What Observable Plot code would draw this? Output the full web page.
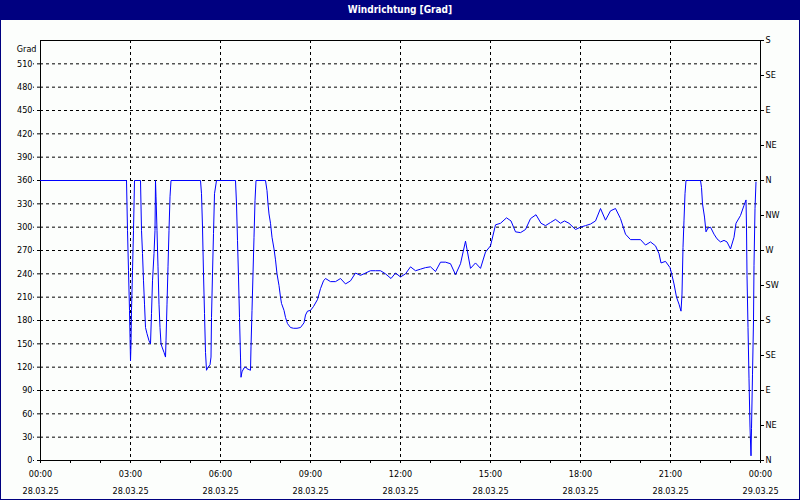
<!DOCTYPE html>
<html><head><meta charset="utf-8">
<script src="https://cdn.jsdelivr.net/npm/d3@7"></script>
<script src="https://cdn.jsdelivr.net/npm/@observablehq/plot@0.6"></script>
<style>
html,body{margin:0;padding:0;background:#fff;}
#win{width:800px;height:500px;box-sizing:border-box;border:1px solid #000080;border-top:none;background:#fcfefc;position:relative;overflow:hidden;}
#title{height:20px;background:#000080;color:#fff;font:bold 10px "DejaVu Sans Condensed","DejaVu Sans",sans-serif;text-align:center;line-height:20px;margin:0 -1px;}
#chart svg{display:block;}
</style></head>
<body>
<div id="win"><div id="title">Windrichtung [Grad]</div><div id="chart"></div></div>
<script>
const times = ["00:00","02:52","02:54","02:56","02:58","03:00","03:01","03:02","03:04","03:06","03:08","03:20","03:22","03:24","03:26","03:28","03:30","03:33","03:37","03:40","03:42","03:44","03:47","03:49","03:50","03:51","03:53","03:55","03:57","03:59","04:01","04:03","04:07","04:10","04:11","04:13","04:15","04:17","04:19","04:21","05:20","05:22","05:24","05:26","05:28","05:30","05:32","05:35","05:39","05:41","05:42","05:44","05:46","05:48","05:52","06:30","06:32","06:34","06:36","06:38","06:40","06:41","06:43","06:47","06:50","06:53","07:00","07:01","07:03","07:05","07:07","07:09","07:11","07:30","07:33","07:35","07:37","07:40","07:43","07:47","07:50","07:53","07:57","08:00","08:02","08:07","08:10","08:14","08:20","08:26","08:33","08:40","08:47","08:50","08:54","09:00","09:06","09:14","09:20","09:26","09:30","09:40","09:50","10:00","10:10","10:20","10:30","10:40","10:50","11:00","11:10","11:20","11:30","11:41","11:50","12:00","12:10","12:20","12:30","12:40","12:50","13:00","13:10","13:20","13:30","13:40","13:50","14:00","14:10","14:20","14:30","14:40","14:50","15:00","15:10","15:20","15:32","15:41","15:50","16:00","16:10","16:20","16:31","16:41","16:50","17:00","17:10","17:20","17:28","17:37","17:50","18:00","18:10","18:20","18:30","18:40","18:50","19:00","19:10","19:20","19:30","19:40","20:00","20:10","20:20","20:30","20:37","20:41","20:50","20:59","21:03","21:07","21:12","21:17","21:21","21:23","21:25","21:27","21:29","21:31","22:00","22:02","22:04","22:08","22:11","22:15","22:20","22:27","22:33","22:40","22:47","22:53","23:00","23:07","23:11","23:20","23:27","23:31","23:32","23:33","23:35","23:37","23:39","23:41","23:42","23:44","23:46","23:47","23:49","23:51"];
const degrees = [360,360,296,244,193,128,150,193,244,296,360,360,296,266,231,201,171,163,154,150,189,231,266,296,360,339,296,249,201,171,150,146,139,133,154,201,249,296,339,360,360,343,300,240,189,139,116,120,123,133,184,240,292,343,360,360,330,283,236,184,133,107,114,119,120,118,116,146,193,240,287,334,360,360,347,330,317,305,287,272,258,240,225,210,202,193,184,176,171,170,170,171,177,187,192,193,198,207,221,231,234,230,230,234,227,231,241,238,241,244,244,244,240,234,241,236,240,249,244,246,248,249,243,255,255,253,239,253,282,247,254,247,268,276,303,305,312,308,294,293,297,311,316,305,302,306,310,305,308,305,297,300,302,304,308,324,309,321,324,311,291,284,284,277,281,276,266,254,256,248,238,227,210,201,192,214,274,309,343,360,360,351,330,313,294,299,300,291,285,281,283,281,272,287,305,315,328,335,300,238,171,105,43,6,41,111,180,251,324,358];
const yTicks = [0,30,60,90,120,150,180,210,240,270,300,330,360,390,420,450,480,510];
const compassTicks = [0,45,90,135,180,225,270,315,360,405,450,495,540];
const compassLabels = ["N","NE","E","SE","S","SW","W","NW","N","NE","E","SE","S"];
const dayStart = "2025-03-28", dayEnd = "2025-03-29";

const data = times.map((t, i) => ({t: new Date(`${dayStart}T${t}:00Z`), v: degrees[i]}));
const start = new Date(`${dayStart}T00:00:00Z`), end = new Date(`${dayEnd}T00:00:00Z`);
const xMajor = d3.utcHour.every(3).range(start, new Date(+end + 1));
const xMinor = d3.utcHour.every(1).range(start, new Date(+end + 1));
const fmtT = d3.utcFormat("%H:%M"), fmtD = d3.utcFormat("%d.%m.%y");

const chart = Plot.plot({
  width: 798, height: 479,
  marginLeft: 39, marginRight: 39, marginTop: 20, marginBottom: 39,
  style: {background: "transparent", fontFamily: "'DejaVu Sans Condensed','DejaVu Sans',sans-serif", fontSize: "9px", color: "#000"},
  x: {type: "utc", domain: [start, end]},
  y: {domain: [0, 540]},
  marks: [
    Plot.gridY(yTicks.slice(1), {stroke: "#000", strokeOpacity: 1, strokeDasharray: "3,3"}),
    Plot.gridX(xMajor.slice(1, -1), {stroke: "#000", strokeOpacity: 1, strokeDasharray: "3,3"}),
    Plot.axisY(yTicks, {anchor: "left", tickSize: 7, tickPadding: 1, strokeDasharray: "3,3", label: null}),
    Plot.axisY(compassTicks, {anchor: "right", tickSize: 3, tickPadding: 2, tickFormat: d => compassLabels[d / 45], label: null}),
    Plot.axisX(xMajor, {tickSize: 3, tickPadding: 2, tickFormat: d => `${fmtT(d)}\n${fmtD(d)}`, lineHeight: 1.85, label: null}),
    Plot.axisX(xMinor, {tickSize: 3, tickFormat: () => "", label: null}),
    Plot.frame({stroke: "#000"}),
    Plot.line(data, {x: "t", y: "v", stroke: "#0000ff", strokeWidth: 1}),
    Plot.text(["Grad"], {frameAnchor: "top-left", text: d => d, dx: -4, dy: 5, textAnchor: "end"})
  ]
});
document.getElementById("chart").appendChild(chart);
</script>
</body></html>
